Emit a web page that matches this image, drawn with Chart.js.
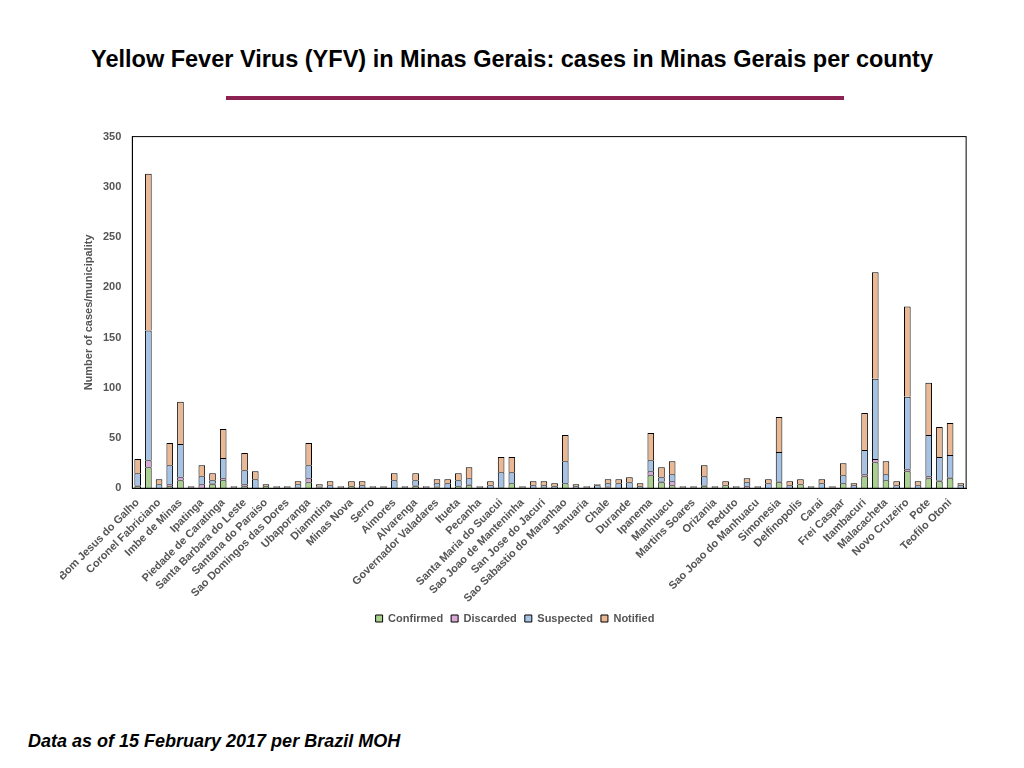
<!DOCTYPE html>
<html>
<head>
<meta charset="utf-8">
<script src="https://cdn.jsdelivr.net/npm/chart.js@4"></script>
<style>
  body { margin: 0; background: #fff; font-family: "Liberation Sans", Arial, sans-serif; }
  #titulo { position: absolute; top: 46px; left: 0; width: 1024px; text-align: center; font-size: 23.5px; font-weight: bold; color: #000; }
  #linea { position: absolute; top: 96px; left: 226px; width: 618px; height: 4px; background: #8b2252; }
  #nota { position: absolute; top: 731px; left: 28px; font-size: 18px; font-weight: bold; font-style: italic; }
  #caja { position: absolute; top: 127px; left: 60px; width: 910px; height: 507px; }
</style>
</head>
<body>
<div id="titulo">Yellow Fever Virus (YFV) in Minas Gerais: cases in Minas Gerais per county</div>
<div id="linea"></div>
<div id="caja"><canvas id="myChart"></canvas></div>
<div id="nota">Data as of 15 February 2017 per Brazil MOH</div>
<script>
const municipios = ["Bom Jesus do Galho", "Coronel Fabriciano", "Imbe de Minas", "Ipatinga", "Piedade de Caratinga",
  "Santa Barbara do Leste", "Santana do Paraiso", "Sao Domingos das Dores", "Ubaporanga", "Diamntina", "Minas Nova",
  "Serro", "Aimores", "Alvarenga", "Governador Valadares", "Itueta", "Pecanha", "Santa Maria do Suacui",
  "Sao Joao de Manteninha", "San Jose do Jacuri", "Sao Sabastio do Maranhao", "Januaria", "Chale", "Durande",
  "Ipanema", "Manhuacu", "Martins Soares", "Orizania", "Reduto", "Sao Joao do Manhuacu", "Simonesia",
  "Delfinopolis", "Carai", "Frei Caspar", "Itambacuri", "Malacacheta", "Novo Cruzeiro", "Pote", "Teofilo Otoni"];

const confirmados = [2,21,0,2,8,0,0,4,8,0,2,0,2,0,0,1,6,1,0,0,2,0,0,0,0,0,2,0,1,0,2,3,0,0,1,5,0,0,1,0,
  5,0,0,0,1,0,0,0,13,6,3,0,0,2,0,3,0,0,0,0,6,0,4,0,0,0,5,0,12,26,8,0,17,0,10,7,10,0];
const descartados = [1,7,0,2,3,0,4,1,2,0,2,0,0,0,0,0,4,0,0,0,0,0,0,0,0,0,1,0,1,0,0,1,0,0,0,0,0,0,0,0,
  0,0,0,0,1,0,0,0,4,1,4,0,0,1,0,0,0,2,0,0,1,0,0,0,0,0,0,0,2,3,0,0,2,0,2,1,1,0];
const sospechosos = [12,129,4,19,33,1,8,3,20,1,14,9,0,1,1,3,13,1,3,1,0,3,1,1,8,1,5,1,3,5,6,6,1,3,15,11,1,3,2,2,
  22,2,1,3,3,5,6,2,11,4,7,1,1,9,1,0,1,4,1,5,29,3,0,1,5,1,8,3,24,80,6,3,72,3,41,23,22,3];
const notificados = [14,156,5,22,42,1,11,7,29,1,17,8,2,1,1,3,22,2,4,1,5,4,1,1,7,1,7,1,4,4,7,11,1,4,15,15,1,4,4,3,
  26,2,1,1,4,4,5,3,27,10,13,1,1,11,1,4,1,4,1,4,35,4,5,1,4,1,12,2,37,106,13,4,90,4,52,30,32,2];

// una etiqueta cada dos barras
const categorias = confirmados.map((v, i) => (i % 2 === 0 ? municipios[i / 2] : ""));

const marco = {
  id: "marco",
  afterDraw(chart) {
    const a = chart.chartArea, ctx = chart.ctx;
    ctx.save();
    ctx.strokeStyle = "#000";
    ctx.lineWidth = 1;
    ctx.strokeRect(a.left, a.top, a.right - a.left, a.bottom - a.top);
    ctx.restore();
  }
};

function serie(label, data, color) {
  return { label: label, data: data, backgroundColor: color, borderColor: "#000", borderWidth: 1,
    categoryPercentage: 1, barPercentage: 0.62 };
}

const llamadoGrafico = document.querySelector("#myChart").getContext("2d");
const myChart = new Chart(llamadoGrafico, {
  type: "bar",
  data: {
    labels: categorias,
    datasets: [
      serie("Confirmed", confirmados, "#a9d08e"),
      serie("Discarded", descartados, "#d9a9d6"),
      serie("Suspected", sospechosos, "#a6c3e6"),
      serie("Notified", notificados, "#eab892"),
    ],
  },
  options: {
    responsive: true,
    maintainAspectRatio: false,
    animation: false,
    plugins: {
      tooltip: { enabled: false },
      legend: {
        position: "bottom",
        labels: { boxWidth: 7, boxHeight: 7, color: "#555", font: { size: 11, weight: "bold" }, padding: 8 },
      },
    },
    scales: {
      x: {
        stacked: true,
        grid: { display: false },
        border: { color: "#000" },
        ticks: { autoSkip: false, maxRotation: 45, minRotation: 45, color: "#555", font: { size: 11, weight: "bold" }, padding: 0 },
      },
      y: {
        stacked: true,
        min: 0,
        max: 350,
        grid: { display: false },
        border: { color: "#000" },
        ticks: { stepSize: 50, color: "#555", font: { size: 11, weight: "bold" } },
        title: { display: true, text: "Number of cases/municipality", color: "#555", font: { size: 11, weight: "bold" } },
      },
    },
  },
  plugins: [marco],
});
</script>
</body>
</html>
